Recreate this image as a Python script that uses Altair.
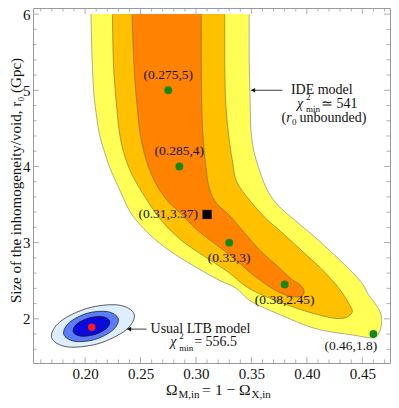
import altair as alt
import pandas as pd

FONT = "Liberation Serif"
FRAME = "#9a9a9a"
W, H = 357, 355
X_DOMAIN = [0.153, 0.475]
Y_DOMAIN = [1.42, 6.08]

# ---- axis ticks ----
X_MAJOR = [0.20, 0.25, 0.30, 0.35, 0.40, 0.45]
X_MINOR = [0.16, 0.17, 0.18, 0.19, 0.21, 0.22, 0.23, 0.24, 0.26, 0.27, 0.28, 0.29,
           0.31, 0.32, 0.33, 0.34, 0.36, 0.37, 0.38, 0.39, 0.41, 0.42, 0.43, 0.44,
           0.46, 0.47]
Y_MAJOR = [2, 3, 4, 5, 6]
Y_MINOR = [1.6, 1.8, 2.2, 2.4, 2.6, 2.8, 3.2, 3.4, 3.6, 3.8, 4.2, 4.4, 4.6, 4.8,
           5.2, 5.4, 5.6, 5.8]

# ---- IDE model confidence regions ----
IDE_3S_X = [0.2053, 0.2062, 0.2079, 0.2106, 0.2132, 0.2176, 0.2220, 0.2317, 0.2405,
            0.2485, 0.2634, 0.2811, 0.3013, 0.3216, 0.3366, 0.3480, 0.3780, 0.4070,
            0.4423, 0.4599, 0.4645, 0.4670, 0.4675, 0.4661, 0.4626, 0.4550, 0.4502,
            0.4308, 0.4070, 0.3894, 0.3744, 0.3648, 0.3577, 0.3524, 0.3498, 0.3489,
            0.3480, 0.3480]
IDE_3S_Y = [6.0, 5.464, 4.953, 4.633, 4.404, 4.186, 3.995, 3.676, 3.407,
            3.254, 3.037, 2.845, 2.667, 2.501, 2.398, 2.245, 2.041, 1.875,
            1.785, 1.755, 1.80, 1.90, 1.99, 2.09, 2.18, 2.33, 2.46,
            2.756, 3.075, 3.292, 3.484, 3.676, 3.931, 4.186, 4.442, 4.825,
            5.464, 6.0]

IDE_2S_X = [0.2247, 0.2256, 0.2282, 0.2317, 0.2361, 0.2423, 0.2546, 0.2687, 0.2863,
            0.3075, 0.3278, 0.3480, 0.3780, 0.4070, 0.4291, 0.4380, 0.4410, 0.4379,
            0.4291, 0.4132, 0.4009, 0.3780, 0.3630, 0.3489, 0.3366, 0.3330, 0.3295,
            0.3269, 0.3260, 0.3260]
IDE_2S_Y = [6.0, 5.336, 4.825, 4.378, 4.123, 3.893, 3.586, 3.292, 3.037,
            2.820, 2.628, 2.398, 2.207, 2.066, 2.003, 2.035, 2.10, 2.20,
            2.398, 2.654, 2.820, 3.126, 3.318, 3.548, 3.803, 4.059, 4.404,
            4.825, 5.336, 6.0]

IDE_1S_X = [0.2423, 0.2441, 0.2467, 0.2511, 0.2599, 0.2722, 0.2863, 0.3013, 0.3216,
            0.3366, 0.3471, 0.3586, 0.3718, 0.3850, 0.3960, 0.3974, 0.3947, 0.3868,
            0.3744, 0.3586, 0.3454, 0.3295, 0.3189, 0.3128, 0.3084, 0.3057, 0.3048,
            0.3048]
IDE_1S_Y = [6.0, 5.336, 4.825, 4.314, 3.893, 3.586, 3.382, 3.165, 2.935,
            2.769, 2.628, 2.501, 2.373, 2.296, 2.30, 2.37, 2.437, 2.513,
            2.679, 2.884, 3.101, 3.369, 3.510, 3.676, 4.059, 4.570, 5.336,
            6.0]

# ---- usual LTB model confidence ellipses ----
LTB_3S_X = [0.2443, 0.2367, 0.2116, 0.1840, 0.1698, 0.1774, 0.2025, 0.2301]
LTB_3S_Y = [2.061, 1.852, 1.673, 1.632, 1.752, 1.962, 2.140, 2.181]
LTB_2S_X = [0.2299, 0.2250, 0.2087, 0.1903, 0.1807, 0.1856, 0.2019, 0.2203]
LTB_2S_Y = [2.003, 1.852, 1.728, 1.706, 1.798, 1.949, 2.073, 2.094]
LTB_1S_X = [0.2222, 0.2190, 0.2079, 0.1956, 0.1893, 0.1924, 0.2035, 0.2159]
LTB_1S_Y = [1.969, 1.871, 1.791, 1.774, 1.831, 1.930, 2.010, 2.027]

# ---- marked points ----
PT_X = [0.275, 0.285, 0.33, 0.38, 0.46]
PT_Y = [5.0, 4.0, 3.0, 2.45, 1.8]
PT_LABEL = ["(0.275,5)", "(0.285,4)", "(0.33,3)", "(0.38,2.45)", "(0.46,1.8)"]
BEST_X = [0.31]
BEST_Y = [3.37]
BEST_LABEL = ["(0.31,3.37)"]
LTB_BEST_X = [0.206]
LTB_BEST_Y = [1.89]

xsc = alt.Scale(domain=X_DOMAIN, nice=False, zero=False)
ysc = alt.Scale(domain=Y_DOMAIN, nice=False, zero=False)
xax = alt.Axis(values=X_MAJOR, format=".2f", ticks=False, domain=False, grid=False,
               labelPadding=3, labelFont=FONT, labelFontSize=15, labelColor="#111",
               title=None, labelFlush=False)
yax = alt.Axis(values=Y_MAJOR, format="d", ticks=False, domain=False, grid=False,
               labelPadding=3, labelFont=FONT, labelFontSize=15, labelColor="#111",
               title="Size of the inhomogeneity/void, r\u2080 (Gpc)", titleFont=FONT,
               titleFontSize=15, titleFontWeight="normal", titleColor="#111",
               titleX=-10, titleY=172, labelFlush=False)


def X(f="x"):
    return alt.X(f"{f}:Q", scale=xsc, axis=xax)


def Y(f="y"):
    return alt.Y(f"{f}:Q", scale=ysc, axis=yax)


def poly(xs, ys, fill, stroke, interp, sw=0.7):
    df = pd.DataFrame({"x": xs, "y": ys, "i": list(range(len(xs)))})
    return alt.Chart(df).mark_line(fill=fill, stroke=stroke, strokeWidth=sw,
                                   interpolate=interp).encode(
        x=X(), y=Y(), order=alt.Order("i:Q"))


def ticks(vals, side, length):
    if side in ("bottom", "top"):
        df = pd.DataFrame({"x": vals})
        if side == "bottom":
            enc = dict(x=X(), y=alt.value(H), y2=alt.value(H - length))
        else:
            enc = dict(x=X(), y=alt.value(0), y2=alt.value(length))
    else:
        df = pd.DataFrame({"y": vals})
        if side == "left":
            enc = dict(y=Y(), x=alt.value(0), x2=alt.value(length))
        else:
            enc = dict(y=Y(), x=alt.value(W), x2=alt.value(W - length))
    return alt.Chart(df).mark_rule(color=FRAME, strokeWidth=0.8).encode(**enc)


one = pd.DataFrame({"a": [0]})


def txt(text, x, y, size=14, dx=0, dy=0, align="left", style="normal", baseline="middle"):
    return alt.Chart(one).mark_text(text=text, font=FONT, fontSize=size, dx=dx, dy=dy,
                                    align=align, fontStyle=style, baseline=baseline,
                                    color="#111").encode(
        x=alt.datum(x), y=alt.datum(y))


def ptxt(text, px, py, size=15.5, style="normal"):
    return alt.Chart(one).mark_text(text=text, font=FONT, fontSize=size, align="left",
                                    baseline="alphabetic", fontStyle=style,
                                    color="#111").encode(
        x=alt.value(px), y=alt.value(py))


def arrow(x1, x2, y):
    line = alt.Chart(one).mark_rule(color="#111", strokeWidth=0.8).encode(
        x=alt.datum(x1), x2=alt.datum(x2), y=alt.datum(y))
    head = alt.Chart(one).mark_point(shape="triangle-left", filled=True, size=22,
                                     color="#111", opacity=1, xOffset=2).encode(
        x=alt.datum(x1), y=alt.datum(y))
    return [line, head]


layers = [
    poly(IDE_3S_X, IDE_3S_Y, "#FFFF55", "#8a8a8a", "catmull-rom"),
    poly(IDE_2S_X, IDE_2S_Y, "#FFC000", "#8a7a40", "catmull-rom"),
    poly(IDE_1S_X, IDE_1S_Y, "#FF8200", "#8a6a40", "catmull-rom"),
    poly(LTB_3S_X, LTB_3S_Y, "#DCEEFF", "#333333", "cardinal-closed", 0.8),
    poly(LTB_2S_X, LTB_2S_Y, "#5B7CFA", "#222222", "cardinal-closed", 0.8),
    poly(LTB_1S_X, LTB_1S_Y, "#0A0ADC", "#111111", "cardinal-closed", 0.8),
]

for side in ("bottom", "top"):
    layers.append(ticks(X_MAJOR, side, 6))
    layers.append(ticks(X_MINOR, side, 3.5))
for side in ("left", "right"):
    layers.append(ticks(Y_MAJOR, side, 6))
    layers.append(ticks(Y_MINOR, side, 3.5))

pts = pd.DataFrame({"x": PT_X, "y": PT_Y, "label": PT_LABEL})
best = pd.DataFrame({"x": BEST_X, "y": BEST_Y, "label": BEST_LABEL})
ltb = pd.DataFrame({"x": LTB_BEST_X, "y": LTB_BEST_Y})

layers.append(alt.Chart(pts).mark_circle(size=62, color="#128a12", opacity=1).encode(x=X(), y=Y()))
layers.append(alt.Chart(best).mark_square(size=85, color="#000000", opacity=1).encode(x=X(), y=Y()))
layers.append(alt.Chart(ltb).mark_circle(size=55, color="#FF1A1A", opacity=1).encode(x=X(), y=Y()))

lab_font = dict(font=FONT, fontSize=13.5, color="#111")
layers.append(alt.Chart(pts.iloc[0:2]).mark_text(dy=-15, **lab_font).encode(x=X(), y=Y(), text="label:N"))
layers.append(alt.Chart(pts.iloc[2:4]).mark_text(dy=15, **lab_font).encode(x=X(), y=Y(), text="label:N"))
layers.append(alt.Chart(pts.iloc[4:5]).mark_text(dy=12, dx=4, align="right", **lab_font).encode(x=X(), y=Y(), text="label:N"))
layers.append(alt.Chart(best).mark_text(dx=-9, align="right", **lab_font).encode(x=X(), y=Y(), text="label:N"))

# IDE annotation
layers += arrow(0.3497, 0.3780, 5.0)
layers.append(txt("IDE model", 0.4135, 5.0, align="center"))
layers.append(txt("\u03c7", 0.3912, 4.825, style="italic"))
layers.append(txt("2", 0.3912, 4.825, size=9, dx=9, dy=-6.5))
layers.append(txt("min", 0.3912, 4.825, size=9, dx=9, dy=5.5))
layers.append(txt("\u2243 541", 0.3912, 4.825, dx=24))
layers.append(txt("(", 0.3771, 4.633))
layers.append(txt("r", 0.3771, 4.633, dx=4.7, style="italic"))
layers.append(txt("0", 0.3771, 4.633, size=9, dx=10.5, dy=4))
layers.append(txt("unbounded)", 0.3771, 4.633, dx=18))

# LTB annotation
layers += arrow(0.2379, 0.2555, 1.865)
layers.append(txt("Usual LTB model", 0.2590, 1.865))
layers.append(txt("\u03c7", 0.2767, 1.69, style="italic"))
layers.append(txt("2", 0.2767, 1.69, size=9, dx=9, dy=-6.5))
layers.append(txt("min", 0.2767, 1.69, size=9, dx=9, dy=5.5))
layers.append(txt("= 556.5", 0.2767, 1.69, dx=24))

# x-axis title pieces
layers.append(ptxt("\u03a9", 133, 387))
layers.append(ptxt("M,in", 145.5, 390, size=11))
layers.append(ptxt("=", 169, 387))
layers.append(ptxt("1", 182, 387))
layers.append(ptxt("\u2212", 193.5, 387))
layers.append(ptxt("\u03a9", 206, 387))
layers.append(ptxt("X,in", 218.5, 390, size=11))

chart = alt.layer(*layers).properties(
    width=W, height=H,
    autosize=alt.AutoSizeParams(type="none"),
    padding={"left": 25, "top": 0, "right": 1, "bottom": 37},
).configure_view(stroke=FRAME, strokeWidth=1)

chart.save("out.html", embed_options={"renderer": "svg", "actions": False})
